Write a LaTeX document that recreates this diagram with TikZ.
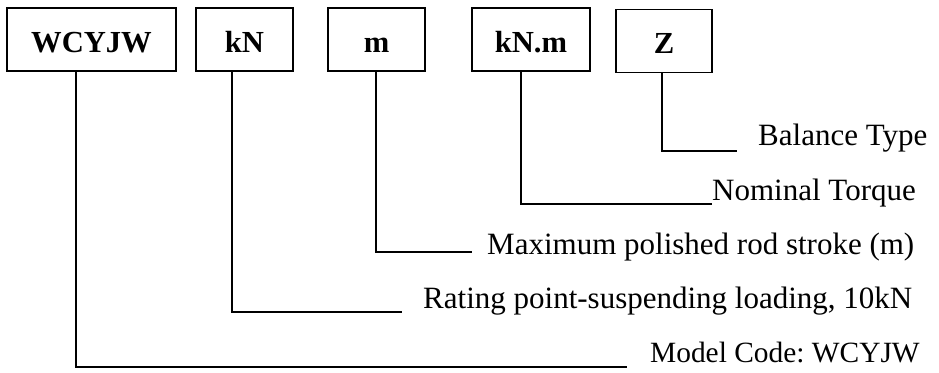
\documentclass[tikz,border=0pt]{standalone}
\usepackage{fontspec}
\setmainfont{Liberation Serif}
\begin{document}
\frenchspacing
\begin{tikzpicture}[x=1pt,y=-1pt,
  codebox/.style={draw, line width=1.8pt, inner sep=0pt, minimum height=63pt,
    text height=25pt, text depth=0pt,
    font=\fontsize{30.6pt}{36pt}\selectfont\bfseries},
  desc/.style={inner sep=0pt, anchor=base west, font=\fontsize{31pt}{36pt}\selectfont},
  conn/.style={line width=1.8pt}]
\useasboundingbox (0,0) rectangle (939,372);
% boxes
\node[codebox, minimum width=169pt] (b1) at (91.5,39.5) {WCYJW};
\node[codebox, minimum width=97pt] (b2) at (244.5,39.5) {kN};
\node[codebox, minimum width=97pt] (b3) at (376.5,39.5) {m};
\node[codebox, minimum width=118pt] (b4) at (531,39.5) {kN.m};
\node[codebox, minimum width=96pt] (b5) at (664,41) {Z};
% descriptions
\node[desc] (d5) at (758,145) {Balance Type};
\node[desc] (d4) at (712,200) {Nominal Torque};
\node[desc] (d3) at (487,254) {Maximum polished rod stroke (m)};
\node[desc] (d2) at (423,308) {Rating point-suspending loading, 10kN};
\node[desc, font=\fontsize{29.4pt}{36pt}\selectfont] (d1) at (650,362) {Model Code: WCYJW};
% corners and line ends
\coordinate (c5) at (662,151); \coordinate (e5) at (737,151);
\coordinate (c4) at (521,204); \coordinate (e4) at (712,204);
\coordinate (c3) at (376,252); \coordinate (e3) at (472,252);
\coordinate (c2) at (232,312); \coordinate (e2) at (402,312);
\coordinate (c1) at (76,367);  \coordinate (e1) at (627,367);
% connectors
\draw[conn] (b5.south -| c5) -- (c5) -- (e5);
\draw[conn] (b4.south -| c4) -- (c4) -- (e4);
\draw[conn] (b3.south -| c3) -- (c3) -- (e3);
\draw[conn] (b2.south -| c2) -- (c2) -- (e2);
\draw[conn] (b1.south -| c1) -- (c1) -- (e1);
\end{tikzpicture}
\end{document}
